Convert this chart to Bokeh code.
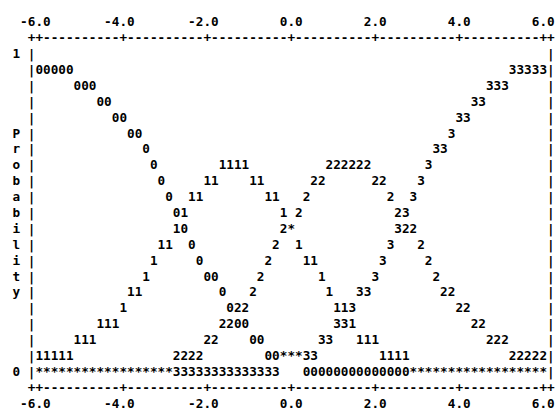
import numpy as np
from bokeh.plotting import figure
from bokeh.models import ColumnDataSource, Range1d
from bokeh.core.properties import value
from bokeh.embed import file_html
from bokeh.resources import INLINE

# ---- data (one value per print column, x from -6 to 6) ----
x_vals = np.linspace(-6.0, 6.0, 67)

symbols = ["0", "1", "2", "3"]

prob_0 = [0.95, 0.95, 0.95, 0.95, 0.95, 0.90, 0.90, 0.90, 0.85, 0.85, 0.80,
          0.80, 0.75, 0.75, 0.70, 0.65, 0.60, 0.55, 0.50, 0.45, 0.40, 0.35,
          0.30, 0.30, 0.25, 0.20, 0.15, 0.15, 0.10, 0.10, 0.05, 0.05, 0.05,
          0.05, 0.05, 0.00, 0.00, 0.00, 0.00, 0.00, 0.00, 0.00, 0.00, 0.00,
          0.00, 0.00, 0.00, 0.00, 0.00, 0.00, 0.00, 0.00, 0.00, 0.00, 0.00,
          0.00, 0.00, 0.00, 0.00, 0.00, 0.00, 0.00, 0.00, 0.00, 0.00, 0.00,
          0.00]
prob_1 = [0.05, 0.05, 0.05, 0.05, 0.05, 0.10, 0.10, 0.10, 0.15, 0.15, 0.15,
          0.20, 0.25, 0.25, 0.30, 0.35, 0.40, 0.40, 0.45, 0.50, 0.55, 0.55,
          0.60, 0.60, 0.65, 0.65, 0.65, 0.65, 0.60, 0.60, 0.55, 0.55, 0.50,
          0.45, 0.40, 0.35, 0.35, 0.30, 0.25, 0.20, 0.20, 0.15, 0.10, 0.10,
          0.10, 0.05, 0.05, 0.05, 0.05, 0.00, 0.00, 0.00, 0.00, 0.00, 0.00,
          0.00, 0.00, 0.00, 0.00, 0.00, 0.00, 0.00, 0.00, 0.00, 0.00, 0.00,
          0.00]
prob_2 = [0.00, 0.00, 0.00, 0.00, 0.00, 0.00, 0.00, 0.00, 0.00, 0.00, 0.00,
          0.00, 0.00, 0.00, 0.00, 0.00, 0.00, 0.00, 0.05, 0.05, 0.05, 0.05,
          0.10, 0.10, 0.15, 0.15, 0.20, 0.20, 0.25, 0.30, 0.35, 0.40, 0.45,
          0.45, 0.50, 0.55, 0.60, 0.60, 0.65, 0.65, 0.65, 0.65, 0.65, 0.65,
          0.60, 0.60, 0.55, 0.50, 0.45, 0.45, 0.40, 0.35, 0.30, 0.25, 0.25,
          0.20, 0.20, 0.15, 0.15, 0.10, 0.10, 0.10, 0.05, 0.05, 0.05, 0.05,
          0.05]
prob_3 = [0.00, 0.00, 0.00, 0.00, 0.00, 0.00, 0.00, 0.00, 0.00, 0.00, 0.00,
          0.00, 0.00, 0.00, 0.00, 0.00, 0.00, 0.00, 0.00, 0.00, 0.00, 0.00,
          0.00, 0.00, 0.00, 0.00, 0.00, 0.00, 0.00, 0.00, 0.00, 0.00, 0.05,
          0.05, 0.05, 0.05, 0.05, 0.10, 0.10, 0.15, 0.15, 0.20, 0.25, 0.25,
          0.30, 0.35, 0.40, 0.45, 0.50, 0.55, 0.60, 0.65, 0.70, 0.70, 0.75,
          0.80, 0.80, 0.85, 0.85, 0.90, 0.90, 0.90, 0.95, 0.95, 0.95, 0.95,
          0.95]

x_ticks = [-6.0, -4.0, -2.0, 0.0, 2.0, 4.0, 6.0]
x_tick_labels = ["-6.0", "-4.0", "-2.0", "0.0", "2.0", "4.0", "6.0"]
y_ticks = [1.0, 0.0]
y_tick_labels = ["1", "0"]
y_title = "Probability"

# ---- layout of the character grid ----
FONT = value("DejaVu Sans Mono")
FSIZE = value("12.7px")
dx = x_vals[1] - x_vals[0]          # width of one print column in data units
dy = 0.05                           # height of one print line in probability units

p = figure(width=556, height=408, output_backend="svg", toolbar_location=None,
           x_range=Range1d(-6.9214, 6.3167), y_range=Range1d(-0.1164, 1.1667),
           min_border=0, min_border_left=0, min_border_right=0,
           min_border_top=0, min_border_bottom=0,
           x_axis_location=None, y_axis_location=None)
p.grid.visible = False
p.outline_line_color = None
p.background_fill_color = "white"
p.border_fill_color = "white"

def put(xs, ys, ts, align="center"):
    src = ColumnDataSource(dict(x=list(xs), y=list(ys), t=list(ts)))
    p.text(x="x", y="y", text="t", source=src, text_align=align,
           text_baseline="middle", text_font=FONT, text_font_size=FSIZE,
           text_font_style="bold", text_color="#000000")

# plot symbols (collisions shown as '*')
cells = {}
for sym, probs in zip(symbols, [prob_0, prob_1, prob_2, prob_3]):
    for j, (xv, pv) in enumerate(zip(x_vals, probs)):
        key = (j, round(pv / dy))
        cells.setdefault(key, set()).add(sym)
px, py, pt = [], [], []
for (j, r), syms in cells.items():
    px.append(x_vals[j])
    py.append(r * dy)
    pt.append(syms.pop() if len(syms) == 1 else "*")
put(px, py, pt)

# horizontal axes made of characters
tick_cols = [int(round((t - x_vals[0]) / dx)) for t in x_ticks]
ax_x, ax_t = [], []
for c in range(-1, len(x_vals) + 1):
    ax_x.append(x_vals[0] + c * dx)
    ax_t.append("+" if (c in tick_cols or c == -1 or c == len(x_vals)) else "-")
top_y = y_ticks[0] + dy
bot_y = y_ticks[1] - dy
put(ax_x, [top_y] * len(ax_x), ax_t)
put(ax_x, [bot_y] * len(ax_x), ax_t)

# tick labels (decimal point under the tick)
lab_x = [t + 1.5 * dx for t in x_ticks]
put(lab_x, [top_y + dy] * len(lab_x), x_tick_labels, align="right")
put(lab_x, [bot_y - dy] * len(lab_x), x_tick_labels, align="right")

# vertical borders
rows = [y_ticks[1] + k * dy for k in range(21)]
put([x_vals[0] - dx] * len(rows), rows, ["|"] * len(rows))
put([x_vals[-1] + dx] * len(rows), rows, ["|"] * len(rows))

# y labels and stacked title
put([x_vals[0] - 3 * dx] * 2, y_ticks, y_tick_labels)
title_y = [0.75 - k * dy for k in range(len(y_title))]
put([x_vals[0] - 3 * dx] * len(y_title), title_y, list(y_title))

open("out.html", "w").write(file_html(p, INLINE))
